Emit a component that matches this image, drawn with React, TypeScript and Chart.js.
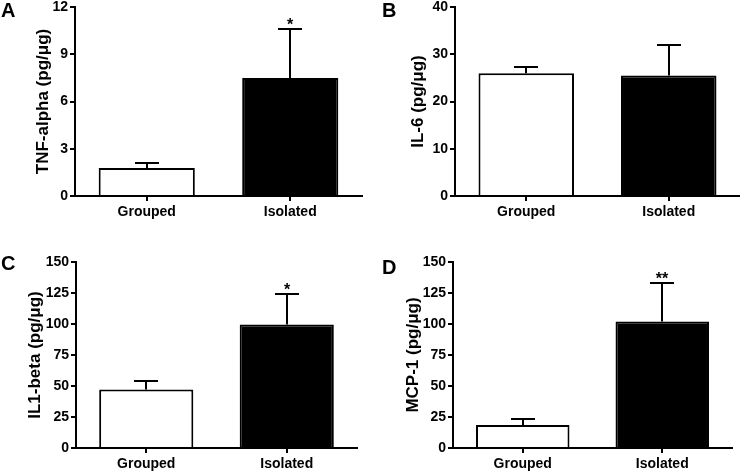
import React, { useEffect, useRef } from 'react';
import { Chart, registerables } from 'chart.js';

Chart.register(...registerables);

// ---- data ----
const categories = ['Grouped', 'Isolated'];

const tnfMeans = [1.78, 7.5];
const tnfErrors = [0.3, 3.1];
const tnfStars = ['', '*'];
const tnfTicks = { max: 12, step: 3 };

const il6Means = [26.0, 25.5];
const il6Errors = [1.2, 6.5];
const il6Stars = ['', ''];
const il6Ticks = { max: 40, step: 10 };

const il1bMeans = [47.2, 99.5];
const il1bErrors = [6.7, 25.0];
const il1bStars = ['', '*'];
const il1bTicks = { max: 150, step: 25 };

const mcp1Means = [18.5, 102.0];
const mcp1Errors = [4.7, 30.8];
const mcp1Stars = ['', '**'];
const mcp1Ticks = { max: 150, step: 25 };

const FONT = '"Liberation Sans", Arial, Helvetica, sans-serif';

const errorBarPlugin = {
  id: 'errorBarsStars',
  afterDatasetsDraw(chart: any) {
    const { ctx } = chart;
    const yScale = chart.scales.y;
    const ds = chart.data.datasets[0];
    const meta = chart.getDatasetMeta(0);
    ctx.save();
    ctx.strokeStyle = '#000';
    ctx.fillStyle = '#000';
    ctx.lineWidth = 2;
    meta.data.forEach((bar: any, i: number) => {
      const v = ds.data[i];
      const e = ds.errors[i];
      const x = Math.round(bar.x);
      const yBar = yScale.getPixelForValue(v);
      const yTop = Math.round(yScale.getPixelForValue(v + e));
      ctx.beginPath();
      ctx.moveTo(x, yBar);
      ctx.lineTo(x, yTop);
      ctx.moveTo(x - 12, yTop);
      ctx.lineTo(x + 12, yTop);
      ctx.stroke();
      const s = ds.stars[i];
      if (s) {
        ctx.font = `bold 16px ${FONT}`;
        ctx.textAlign = 'center';
        ctx.textBaseline = 'alphabetic';
        ctx.fillText(s, x, yTop + 0.5);
      }
    });
    ctx.restore();
  },
};

type PanelProps = {
  left: number;
  top: number;
  width: number;
  height: number;
  axisX: number;
  areaTop: number;
  areaBottom: number;
  areaRight: number;
  titlePad: number;
  title: string;
  means: number[];
  errors: number[];
  stars: string[];
  ticks: { max: number; step: number };
  letter: string;
  letterLeft: number;
  letterTop: number;
};

function Panel(p: PanelProps) {
  const ref = useRef<HTMLCanvasElement | null>(null);
  useEffect(() => {
    if (!ref.current) return;
    const chart = new Chart(ref.current, {
      type: 'bar',
      data: {
        labels: categories,
        datasets: [
          {
            data: p.means,
            errors: p.errors,
            stars: p.stars,
            backgroundColor: ['#ffffff', '#000000'],
            borderColor: '#000000',
            borderWidth: 2,
            barPercentage: 0.67,
            categoryPercentage: 1,
          } as any,
        ],
      },
      options: {
        animation: false,
        responsive: false,
        maintainAspectRatio: false,
        events: [],
        layout: {
          padding: { top: p.areaTop, right: p.width - p.areaRight, left: 0, bottom: 0 },
        },
        plugins: {
          legend: { display: false },
          tooltip: { enabled: false },
          title: { display: false },
        },
        scales: {
          x: {
            offset: true,
            grid: {
              offset: false,
              drawOnChartArea: false,
              drawTicks: true,
              tickLength: 5,
              color: '#000',
              lineWidth: 2,
            },
            border: { display: true, color: '#000', width: 2 },
            ticks: {
              color: '#000',
              padding: 3,
              maxRotation: 0,
              font: { family: FONT, size: 14, weight: 'bold' },
            },
            afterFit: (scale: any) => {
              scale.height = p.height - p.areaBottom;
              scale.paddingLeft = 0;
              scale.paddingRight = 0;
            },
          },
          y: {
            min: 0,
            max: p.ticks.max,
            grid: {
              drawOnChartArea: false,
              drawTicks: true,
              tickLength: 5,
              color: '#000',
              lineWidth: 2,
            },
            border: { display: true, color: '#000', width: 2 },
            ticks: {
              stepSize: p.ticks.step,
              color: '#000',
              padding: 2,
              font: { family: FONT, size: 14, weight: 'bold' },
            },
            title: {
              display: true,
              text: p.title,
              color: '#000',
              font: { family: FONT, size: 17, weight: 'bold', lineHeight: 1.2 },
              padding: { top: p.titlePad, bottom: 0 },
            },
            afterFit: (scale: any) => {
              scale.width = p.axisX;
              scale.paddingTop = 0;
              scale.paddingBottom = 0;
            },
          },
        },
      } as any,
      plugins: [errorBarPlugin],
    });
    return () => chart.destroy();
  }, []);

  return (
    <>
      <canvas
        ref={ref}
        width={p.width}
        height={p.height}
        style={{ position: 'absolute', left: p.left, top: p.top, width: p.width, height: p.height }}
      />
      <div
        style={{
          position: 'absolute',
          left: p.letterLeft,
          top: p.letterTop,
          fontFamily: FONT,
          fontWeight: 'bold',
          fontSize: 20,
          lineHeight: '20px',
          color: '#000',
        }}
      >
        {p.letter}
      </div>
    </>
  );
}

export default function App() {
  return (
    <div
      style={{
        position: 'absolute',
        left: 0,
        top: 0,
        width: 740,
        height: 471,
        background: '#fff',
        overflow: 'hidden',
      }}
    >
      <Panel
        left={0}
        top={0}
        width={370}
        height={235}
        axisX={75}
        areaTop={7}
        areaBottom={196}
        areaRight={362}
        titlePad={33}
        title="TNF-alpha (pg/μg)"
        means={tnfMeans}
        errors={tnfErrors}
        stars={tnfStars}
        ticks={tnfTicks}
        letter="A"
        letterLeft={1}
        letterTop={0}
      />
      <Panel
        left={370}
        top={0}
        width={370}
        height={235}
        axisX={85}
        areaTop={7}
        areaBottom={196}
        areaRight={370}
        titlePad={38}
        title="IL-6 (pg/μg)"
        means={il6Means}
        errors={il6Errors}
        stars={il6Stars}
        ticks={il6Ticks}
        letter="B"
        letterLeft={382}
        letterTop={0}
      />
      <Panel
        left={0}
        top={235}
        width={370}
        height={236}
        axisX={76}
        areaTop={27}
        areaBottom={213}
        areaRight={357}
        titlePad={25}
        title="IL1-beta (pg/μg)"
        means={il1bMeans}
        errors={il1bErrors}
        stars={il1bStars}
        ticks={il1bTicks}
        letter="C"
        letterLeft={1}
        letterTop={253}
      />
      <Panel
        left={370}
        top={235}
        width={370}
        height={236}
        axisX={83}
        areaTop={27}
        areaBottom={213}
        areaRight={362}
        titlePad={33}
        title="MCP-1 (pg/μg)"
        means={mcp1Means}
        errors={mcp1Errors}
        stars={mcp1Stars}
        ticks={mcp1Ticks}
        letter="D"
        letterLeft={382}
        letterTop={257}
      />
    </div>
  );
}
